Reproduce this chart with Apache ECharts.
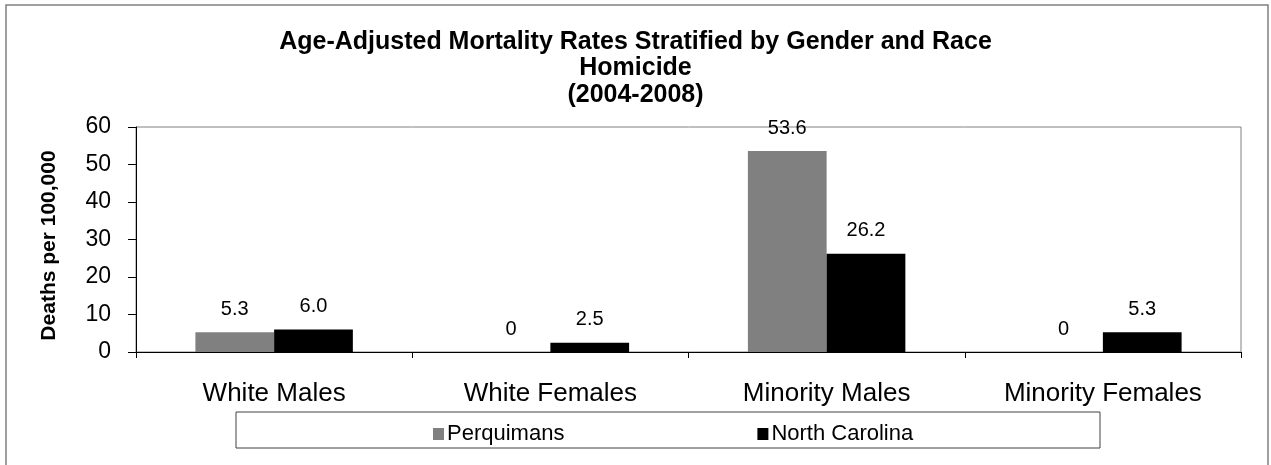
<!DOCTYPE html>
<html>
<head>
<meta charset="utf-8">
<script src="https://cdn.jsdelivr.net/npm/echarts@6/dist/echarts.min.js"></script>
<style>
    html, body { margin: 0; padding: 0; background: #fff; }
    #chart { width: 1271px; height: 465px; }
</style>
</head>
<body>
<div id="chart"></div>
<script>
// data
const groups = ['White Males', 'White Females', 'Minority Males', 'Minority Females']
const perquimans = [5.3, 0, 53.6, 0]
const northCarolina = [6.0, 2.5, 26.2, 5.3]
const perquimansLabels = ['5.3', '0', '53.6', '0']
const ncLabels = ['6.0', '2.5', '26.2', '5.3']
const titleLines = ['Age-Adjusted Mortality Rates Stratified by Gender and Race', 'Homicide', '(2004-2008)']
const yTicks = { min: 0, max: 60, interval: 10 }

const font = 'Arial, "Liberation Sans", sans-serif'

let chart = echarts.init(document.getElementById('chart'))

// one title block per line so every line is centred
let titles = titleLines.map((t, i) => ({
    text: t,
    left: 'center',
    top: 29 + i * 26.5,
    padding: 0,
    textStyle: {
        fontFamily: font,
        fontSize: 25,
        fontWeight: 'bold',
        lineHeight: 26,
        color: '#000'
    }
}))

let option = {
    animation: false,
    textStyle: { fontFamily: font, color: '#000' },
    title: titles,
    graphic: [
        {
            type: 'rect',
            shape: { x: 6, y: 5, width: 1262, height: 470 },
            style: { fill: 'none', stroke: '#808080', lineWidth: 1.5 },
            silent: true
        },
        {
            type: 'rect',
            shape: { x: 236, y: 412, width: 864, height: 36 },
            style: { fill: 'none', stroke: '#404040', lineWidth: 1 },
            silent: true
        }
    ],
    legend: {
        left: 428,
        top: 418,
        icon: 'rect',
        itemWidth: 11,
        itemHeight: 12,
        itemGap: 193,
        textStyle: { fontFamily: font, fontSize: 22, color: '#000', padding: [0, 0, 0, -2] },
        data: ['Perquimans', 'North Carolina']
    },
    grid: {
        left: 136,
        right: 30,
        top: 127,
        bottom: 113,
        show: true,
        borderColor: '#808080',
        borderWidth: 1,
        backgroundColor: 'transparent'
    },
    xAxis: {
        type: 'category',
        data: groups,
        axisLine: { lineStyle: { color: '#000', width: 1 } },
        axisTick: { show: true, length: 6, alignWithLabel: false, lineStyle: { color: '#000' } },
        axisLabel: { fontFamily: font, fontSize: 26, color: '#000', margin: 29, interval: 0 },
        splitLine: { show: false }
    },
    yAxis: {
        type: 'value',
        min: yTicks.min,
        max: yTicks.max,
        interval: yTicks.interval,
        name: 'Deaths per 100,000',
        nameLocation: 'middle',
        nameGap: 76,
        nameTextStyle: { fontFamily: font, fontSize: 21, fontWeight: 'bold', color: '#000', padding: [0, 12, 0, 0] },
        axisLine: { show: true, lineStyle: { color: '#000', width: 1 } },
        axisTick: { show: true, length: 8, lineStyle: { color: '#000' } },
        axisLabel: { fontFamily: font, fontSize: 23, color: '#000', margin: 25 },
        splitLine: { show: false }
    },
    series: [
        {
            name: 'Perquimans',
            type: 'bar',
            data: perquimans,
            barGap: '0%',
            barCategoryGap: '43%',
            itemStyle: { color: '#808080' },
            label: {
                show: true,
                position: 'top',
                distance: 13,
                fontFamily: font,
                fontSize: 20,
                color: '#000',
                formatter: p => perquimansLabels[p.dataIndex]
            }
        },
        {
            name: 'North Carolina',
            type: 'bar',
            data: northCarolina,
            barGap: '0%',
            barCategoryGap: '43%',
            itemStyle: { color: '#000000' },
            label: {
                show: true,
                position: 'top',
                distance: 13,
                fontFamily: font,
                fontSize: 20,
                color: '#000',
                formatter: p => ncLabels[p.dataIndex]
            }
        }
    ]
}
chart.setOption(option)
window.addEventListener('resize', () => {
    chart.resize()
})
</script>
</body>
</html>
